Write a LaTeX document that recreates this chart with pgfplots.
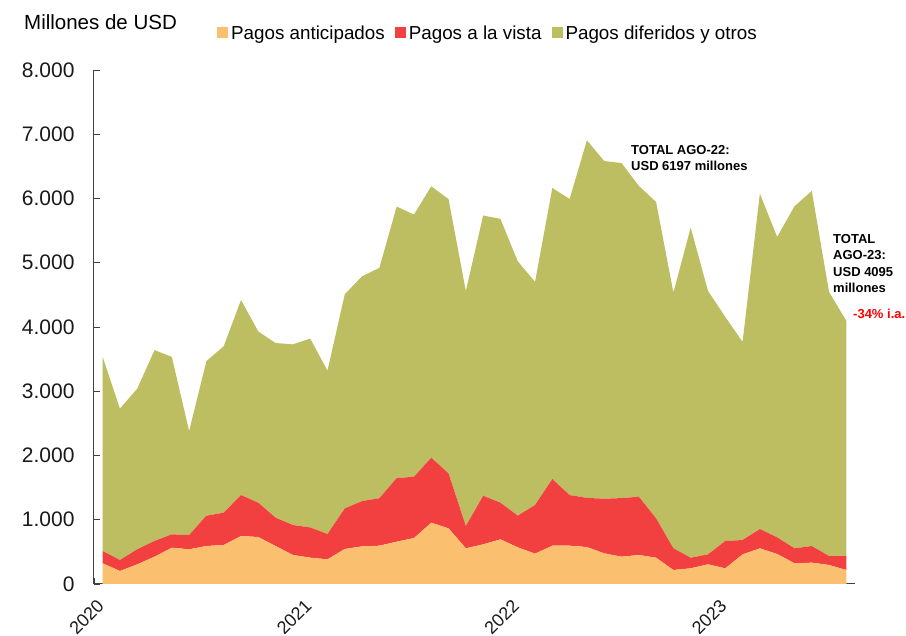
\documentclass[border=0pt]{standalone}
\usepackage{pgfplots}
\pgfplotsset{compat=1.18}
\usepackage{pgfplotstable}
\usepackage{fontspec}
\setmainfont{Liberation Sans}
\definecolor{cOr}{HTML}{FBC06F}
\definecolor{cRe}{HTML}{F24040}
\definecolor{cGr}{HTML}{BDBE62}
\pgfplotstableread{
i a v d
0 322 191 3022
1 202 171 2357
2 306 234 2500
3 425 245 2970
4 565 208 2762
5 540 222 1618
6 591 472 2407
7 607 503 2590
8 747 637 3036
9 731 534 2665
10 591 440 2719
11 451 467 2812
12 410 470 2940
13 384 394 2542
14 545 632 3333
15 586 704 3500
16 596 739 3585
17 658 990 4226
18 715 954 4081
19 954 1011 4225
20 866 855 4269
21 555 347 3658
22 617 757 4361
23 695 570 4418
24 571 492 3960
25 472 757 3473
26 596 1037 4531
27 596 788 4609
28 575 765 5565
29 477 850 5256
30 425 912 5215
31 451 907 4839
32 409 612 4925
33 218 337 3981
34 244 165 5138
35 306 155 4101
36 244 425 3488
37 461 223 3084
38 555 300 5221
39 467 259 4676
40 322 233 5324
41 332 259 5526
42 296 139 4111
43 218 217 3660
}\datatable
\begin{document}
\begin{tikzpicture}
\useasboundingbox (0pt,0pt) rectangle (906pt,636pt);
\begin{axis}[
  at={(94pt,52pt)}, anchor=south west,
  scale only axis, width=761pt, height=514pt,
  xmin=-0.5, xmax=43.5, ymin=0, ymax=8000,
  axis x line*=bottom, axis y line*=left,
  axis line style={black!75, line width=1pt},
  tick style={black!75, line width=0.9pt},
  tick align=inside, major tick length=6pt,
  xtick={-0.5,11.5,23.5,35.5},
  xticklabels={2020,2021,2022,2023},
  ytick={0,1000,...,8000},
  scaled y ticks=false,
  /pgf/number format/.cd, 1000 sep={.}, assume math mode=true, /pgfplots/.cd,
  yticklabel style={font=\fontsize{21}{25}\selectfont, black!90, anchor=east, xshift=-16pt},
  xticklabel style={font=\fontsize{18}{22}\selectfont, black!90, rotate=45, anchor=east, xshift=-5pt, yshift=-18pt},
  stack plots=y,
  legend columns=3,
  legend style={at={(0.1616,1.072)}, anchor=west, draw=none, fill=none,
    inner sep=0pt, font=\fontsize{18.8}{22}\selectfont,
    nodes={inner sep=3pt},
    /tikz/every even column/.append style={column sep=7pt}},
  legend image code/.code={\fill[#1] (0pt,-5.5pt) rectangle (11pt,5.5pt);},
]
\addplot[fill=cOr, draw=none] table[x=i, y=a] {\datatable} \closedcycle;
\addlegendentry{Pagos anticipados}
\addplot[fill=cRe, draw=none] table[x=i, y=v] {\datatable} \closedcycle;
\addlegendentry{Pagos a la vista}
\addplot[fill=cGr, draw=none] table[x=i, y=d] {\datatable} \closedcycle;
\addlegendentry{Pagos diferidos y otros}
\end{axis}
\node[anchor=base west, inner sep=0pt, font=\fontsize{20.5}{24}\selectfont] at (24pt,606.5pt) {Millones de USD};
\node[anchor=north west, inner sep=0pt, align=left, font=\bfseries\fontsize{13}{16.5}\selectfont] at (631pt,491pt) {TOTAL AGO-22:\\USD 6197 millones};
\node[anchor=north west, inner sep=0pt, align=left, font=\bfseries\fontsize{13}{16.5}\selectfont] at (833pt,402pt) {TOTAL\\AGO-23:\\USD 4095\\millones};
\node[anchor=west, inner sep=0pt, text=red, font=\bfseries\fontsize{13}{16}\selectfont] at (853pt,322pt) {-34\% i.a.};
\end{tikzpicture}
\end{document}
